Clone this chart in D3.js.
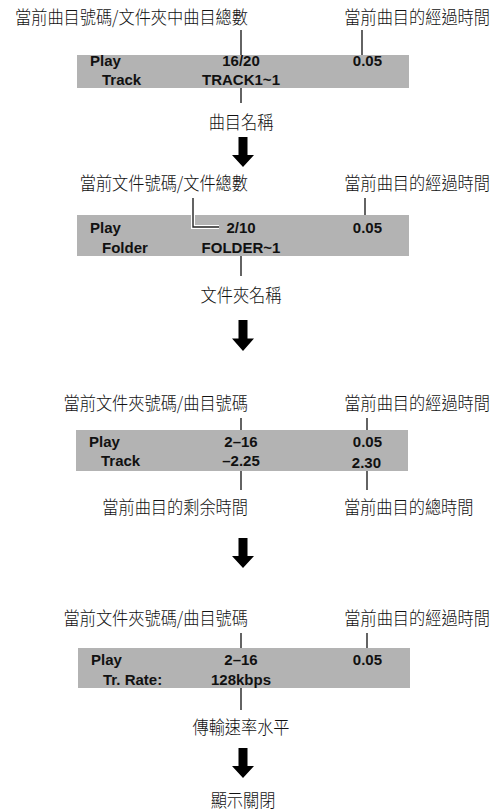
<!DOCTYPE html>
<html>
<head>
<meta charset="utf-8">
<script src="https://cdn.jsdelivr.net/npm/d3@7/dist/d3.min.js"></script>
<style>
  body { margin: 0; background: #fff; }
  .cjk { font-family: "Noto Sans CJK TC", sans-serif; font-size: 18px; font-weight: 300; fill: #111; }
  .lcd { font-family: "Liberation Sans", Arial, sans-serif; font-weight: bold; font-size: 15px; fill: #111; }
</style>
</head>
<body>
<svg id="vis" width="494" height="812"></svg>
<script>
// display screens, one entry per step
var topLabels = ["當前曲目號碼/文件夾中曲目總數", "當前文件號碼/文件總數", "當前文件夾號碼/曲目號碼", "當前文件夾號碼/曲目號碼"];
var topRightLabels = ["當前曲目的經過時間", "當前曲目的經過時間", "當前曲目的經過時間", "當前曲目的經過時間"];
var row1Left = ["Play", "Play", "Play", "Play"];
var row2Left = ["Track", "Folder", "Track", "Tr. Rate:"];
var row1Mid = ["16/20", "2/10", "2–16", "2–16"];
var row2Mid = ["TRACK1~1", "FOLDER~1", "–2.25", "128kbps"];
var row1Right = ["0.05", "0.05", "0.05", "0.05"];
var row2Right = ["", "", "2.30", ""];
var bottomLabels = ["曲目名稱", "文件夾名稱", "當前曲目的剩余時間", "傳輸速率水平"];
var bottomRightLabels = ["", "", "當前曲目的總時間", ""];
var finalLabel = "顯示關閉";

// layout (pixel positions of each step)
var layout = [
  {label: 17, lead: 30, boxTop: 55, boxBot: 88, x0: 77, x1: 409, r1: 66, r2: 85, leadBot: 103, bottom: 122, arrow: [137, 167], elbow: false, rx: 362},
  {label: 183, lead: 198, boxTop: 215, boxBot: 256, x0: 77, x1: 409, r1: 233, r2: 253, leadBot: 276, bottom: 295, arrow: [320, 351], elbow: true, rx: 365},
  {label: 403, lead: 418, boxTop: 430, boxBot: 471, x0: 76, x1: 408, r1: 447, r2: 466, leadBot: 490, bottom: 507, arrow: [538, 568], elbow: false, rx: 367},
  {label: 618, lead: 633, boxTop: 648, boxBot: 688, x0: 78, x1: 410, r1: 665, r2: 685, leadBot: 710, bottom: 727, arrow: [748, 778], elbow: false, rx: 367}
];

var svg = d3.select("svg#vis");
var midX = 241, rightEnd = 382, arrowX = 243;
var sx = 0.9, baseOff = 7;

// CJK labels are slightly condensed
function cjk(sel, x, y, anchor) {
  return sel.append("text")
    .attr("class", "cjk")
    .attr("transform", (d, i) => "translate(" + (typeof x === "function" ? x(d, i) : x) + "," + (y(d, i) + baseOff) + ") scale(" + sx + ",1)")
    .attr("text-anchor", typeof anchor === "function" ? anchor : (anchor || "start"));
}

var steps = svg.selectAll("g.step")
  .data(layout)
  .enter()
  .append("g")
  .attr("class", "step");

// gray display boxes
steps.append("rect")
  .attr("x", d => d.x0)
  .attr("y", d => d.boxTop)
  .attr("width", d => d.x1 - d.x0)
  .attr("height", d => d.boxBot - d.boxTop)
  .style("fill", "#b3b3b3");

// top labels
cjk(steps, 248, d => d.label, "end").text((d, i) => topLabels[i]);
cjk(steps, 490, d => d.label, "end").text((d, i) => topRightLabels[i]);

// leader lines
steps.each(function(d, i) {
  var g = d3.select(this);
  if (d.elbow) {
    var p = d3.path();
    p.moveTo(193, d.lead);
    p.lineTo(193, 227);
    p.lineTo(219, 227);
    g.append("path").attr("d", p.toString())
      .style("fill", "none").style("stroke", "#fff").style("stroke-width", 4);
    g.append("path").attr("d", p.toString())
      .style("fill", "none").style("stroke", "#222").style("stroke-width", 1.4);
  } else {
    g.append("line").attr("x1", midX).attr("x2", midX)
      .attr("y1", d.lead).attr("y2", d.boxTop)
      .style("stroke", "#222").style("stroke-width", 1.4);
  }
  g.append("line").attr("x1", d.rx).attr("x2", d.rx)
    .attr("y1", d.lead).attr("y2", d.boxTop)
    .style("stroke", "#222").style("stroke-width", 1.4);
  g.append("line").attr("x1", midX).attr("x2", midX)
    .attr("y1", d.boxBot).attr("y2", d.leadBot)
    .style("stroke", "#222").style("stroke-width", 1.4);
  if (bottomRightLabels[i] !== "") {
    g.append("line").attr("x1", d.rx).attr("x2", d.rx)
      .attr("y1", d.boxBot).attr("y2", d.leadBot)
      .style("stroke", "#222").style("stroke-width", 1.4);
  }
});

// display texts
steps.append("text").attr("class", "lcd")
  .attr("x", d => d.x0 + 13).attr("y", d => d.r1)
  .text((d, i) => row1Left[i]);
steps.append("text").attr("class", "lcd")
  .attr("x", d => d.x0 + 25).attr("y", d => d.r2)
  .text((d, i) => row2Left[i]);
steps.append("text").attr("class", "lcd")
  .attr("x", midX).attr("y", d => d.r1).attr("text-anchor", "middle")
  .text((d, i) => row1Mid[i]);
steps.append("text").attr("class", "lcd")
  .attr("x", midX).attr("y", d => d.r2).attr("text-anchor", "middle")
  .text((d, i) => row2Mid[i]);
steps.append("text").attr("class", "lcd")
  .attr("x", rightEnd).attr("y", d => d.r1).attr("text-anchor", "end")
  .text((d, i) => row1Right[i]);
steps.append("text").attr("class", "lcd")
  .attr("x", rightEnd - 1).attr("y", d => d.r2 + 2).attr("text-anchor", "end")
  .text((d, i) => row2Right[i]);

// bottom labels
cjk(steps, (d, i) => i === 2 ? 248 : midX, d => d.bottom, (d, i) => i === 2 ? "end" : "middle")
  .text((d, i) => bottomLabels[i]);
cjk(steps, 344, d => d.bottom, "start")
  .text((d, i) => bottomRightLabels[i]);

// down arrows
steps.append("path")
  .attr("d", function(d) {
    var t = d.arrow[0], b = d.arrow[1];
    var h = t + (b - t) * 0.6;
    var p = d3.path();
    p.moveTo(arrowX - 4.5, t);
    p.lineTo(arrowX + 4.5, t);
    p.lineTo(arrowX + 4.5, h);
    p.lineTo(arrowX + 11, h);
    p.lineTo(arrowX, b);
    p.lineTo(arrowX - 11, h);
    p.lineTo(arrowX - 4.5, h);
    p.closePath();
    return p.toString();
  })
  .style("fill", "#000");

svg.append("text").attr("class", "cjk")
  .attr("transform", "translate(" + arrowX + "," + (800 + baseOff) + ") scale(" + sx + ",1)")
  .attr("text-anchor", "middle")
  .text(finalLabel);
</script>
</body>
</html>
